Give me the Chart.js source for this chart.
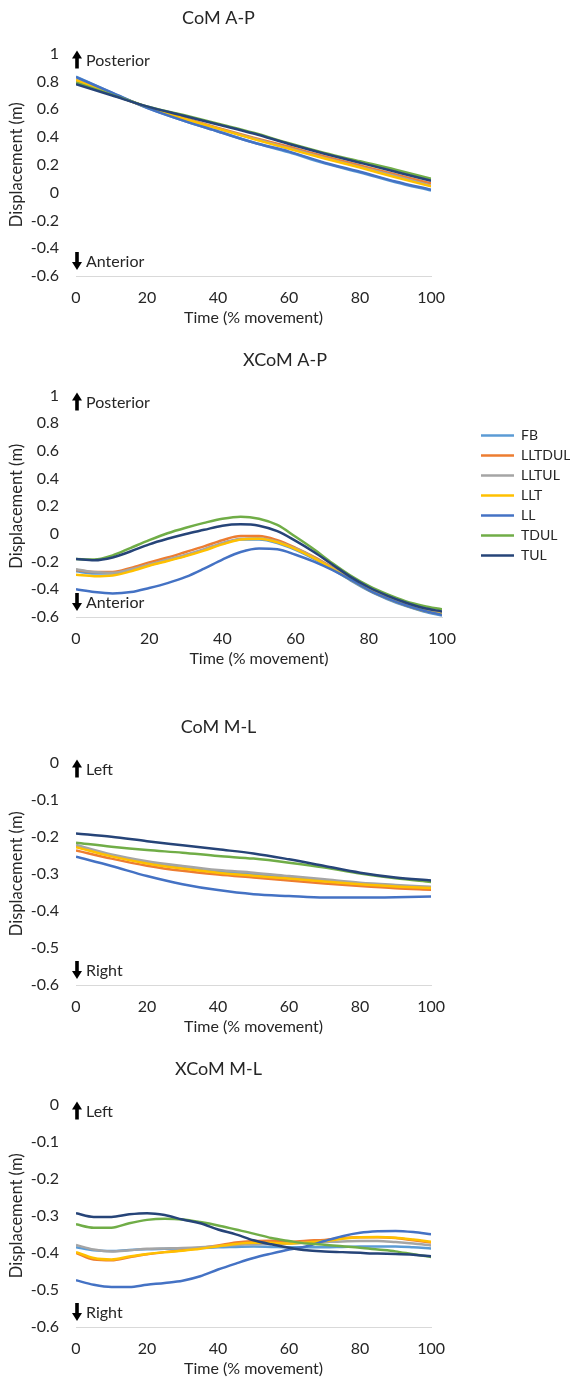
<!DOCTYPE html>
<html>
<head>
<meta charset="utf-8">
<script src="https://cdn.jsdelivr.net/npm/chart.js@4/dist/chart.umd.min.js"></script>
<style>
  body { margin: 0; background: #fff; }
  canvas { position: absolute; left: 0; }
</style>
</head>
<body>
<canvas id="comAP" width="457" height="330" style="top:0px"></canvas>
<canvas id="xcomAP" width="570" height="350" style="top:322px"></canvas>
<canvas id="comML" width="457" height="330" style="top:709px"></canvas>
<canvas id="xcomML" width="457" height="330" style="top:1051px"></canvas>
<script>
// x values (% of movement)
const timeCoarse = [0, 10, 20, 30, 40, 50, 60, 70, 80, 90, 100];
const timeFine = [0, 5, 10, 15, 20, 25, 30, 35, 40, 45, 50, 55, 60, 65, 70, 75, 80, 85, 90, 95, 100];

const seriesNames = ['FB', 'LLTDUL', 'LLTUL', 'LLT', 'LL', 'TDUL', 'TUL'];
const seriesColors = ['#5B9BD5', '#ED7D31', '#A5A5A5', '#FFC000', '#4472C4', '#70AD47', '#264478'];

const xTicks = [0, 20, 40, 60, 80, 100];
const yTicksAP = [-0.6, -0.4, -0.2, 0, 0.2, 0.4, 0.6, 0.8, 1];
const yTicksML = [-0.6, -0.5, -0.4, -0.3, -0.2, -0.1, 0];

// CoM A-P, one row per series (same order as seriesNames), x = timeCoarse
const comApValues = [
  [0.835, 0.72, 0.61, 0.52, 0.44, 0.36, 0.29, 0.21, 0.145, 0.075, 0.015],
  [0.80, 0.71, 0.615, 0.54, 0.465, 0.395, 0.33, 0.26, 0.195, 0.13, 0.065],
  [0.81, 0.71, 0.615, 0.535, 0.46, 0.39, 0.32, 0.25, 0.185, 0.12, 0.05],
  [0.81, 0.71, 0.615, 0.535, 0.46, 0.385, 0.315, 0.245, 0.18, 0.11, 0.045],
  [0.83, 0.72, 0.61, 0.52, 0.44, 0.36, 0.295, 0.215, 0.15, 0.08, 0.02],
  [0.79, 0.705, 0.62, 0.56, 0.495, 0.43, 0.355, 0.285, 0.225, 0.165, 0.10],
  [0.78, 0.70, 0.62, 0.555, 0.49, 0.425, 0.35, 0.28, 0.215, 0.15, 0.085]
];

// XCoM A-P, x = timeFine
const xcomApValues = [
  [-0.27, -0.285, -0.285, -0.26, -0.225, -0.19, -0.155, -0.115, -0.07, -0.04, -0.04, -0.065, -0.115, -0.18, -0.255, -0.335, -0.41, -0.47, -0.52, -0.56, -0.59],
  [-0.26, -0.275, -0.275, -0.245, -0.205, -0.17, -0.13, -0.09, -0.045, -0.015, -0.015, -0.045, -0.1, -0.165, -0.24, -0.32, -0.395, -0.455, -0.505, -0.545, -0.57],
  [-0.255, -0.275, -0.28, -0.255, -0.22, -0.185, -0.15, -0.11, -0.065, -0.035, -0.03, -0.055, -0.105, -0.17, -0.245, -0.325, -0.4, -0.46, -0.51, -0.55, -0.575],
  [-0.295, -0.305, -0.30, -0.27, -0.23, -0.195, -0.16, -0.12, -0.075, -0.04, -0.035, -0.06, -0.11, -0.175, -0.25, -0.33, -0.405, -0.465, -0.515, -0.555, -0.58],
  [-0.40, -0.42, -0.43, -0.42, -0.39, -0.355, -0.31, -0.25, -0.185, -0.13, -0.105, -0.11, -0.15, -0.2, -0.26, -0.33, -0.405, -0.465, -0.515, -0.555, -0.585],
  [-0.18, -0.185, -0.155, -0.10, -0.045, 0.005, 0.045, 0.08, 0.11, 0.125, 0.11, 0.065, -0.02, -0.11, -0.21, -0.30, -0.375, -0.435, -0.485, -0.52, -0.545],
  [-0.18, -0.19, -0.17, -0.125, -0.075, -0.035, 0.0, 0.03, 0.06, 0.07, 0.06, 0.02, -0.05, -0.13, -0.22, -0.31, -0.385, -0.445, -0.495, -0.535, -0.56]
];

// CoM M-L, x = timeCoarse
const comMlValues = [
  [-0.225, -0.25, -0.27, -0.284, -0.294, -0.302, -0.31, -0.318, -0.326, -0.333, -0.338],
  [-0.237, -0.259, -0.278, -0.292, -0.302, -0.31, -0.318, -0.326, -0.333, -0.339, -0.343],
  [-0.222, -0.248, -0.266, -0.279, -0.29, -0.297, -0.306, -0.315, -0.324, -0.33, -0.335],
  [-0.228, -0.253, -0.272, -0.286, -0.297, -0.305, -0.313, -0.321, -0.328, -0.334, -0.338],
  [-0.254, -0.279, -0.306, -0.328, -0.344, -0.355, -0.36, -0.364, -0.364, -0.363, -0.361],
  [-0.216, -0.227, -0.236, -0.243, -0.252, -0.259, -0.27, -0.283, -0.299, -0.312, -0.322],
  [-0.191, -0.2, -0.212, -0.223, -0.234, -0.245, -0.261, -0.279, -0.297, -0.31, -0.318]
];

// XCoM M-L, x = timeFine
const xcomMlValues = [
  [-0.385, -0.393, -0.395, -0.392, -0.39, -0.389, -0.388, -0.387, -0.385, -0.384, -0.383, -0.384, -0.385, -0.385, -0.385, -0.384, -0.383, -0.383, -0.383, -0.385, -0.388],
  [-0.40, -0.418, -0.42, -0.412, -0.404, -0.398, -0.393, -0.387, -0.38, -0.372, -0.368, -0.367, -0.37, -0.367, -0.365, -0.36, -0.358, -0.358, -0.36, -0.366, -0.372],
  [-0.379, -0.391, -0.396, -0.393, -0.389, -0.388, -0.387, -0.385, -0.382, -0.379, -0.377, -0.376, -0.375, -0.373, -0.371, -0.369, -0.368, -0.368, -0.371, -0.375, -0.38],
  [-0.398, -0.414, -0.418, -0.41, -0.403, -0.398, -0.394, -0.389, -0.382, -0.376, -0.373, -0.373, -0.375, -0.372, -0.368, -0.362, -0.358, -0.357, -0.359, -0.364, -0.37],
  [-0.474, -0.486, -0.492, -0.492, -0.486, -0.481, -0.475, -0.463, -0.445, -0.429, -0.414, -0.402, -0.391, -0.382, -0.368, -0.355, -0.346, -0.342, -0.341, -0.344, -0.35],
  [-0.323, -0.332, -0.332, -0.32, -0.311, -0.308, -0.31, -0.317, -0.326, -0.337, -0.348, -0.36, -0.368, -0.375, -0.378, -0.382, -0.386, -0.391, -0.396, -0.404, -0.411],
  [-0.293, -0.303, -0.303, -0.296, -0.293, -0.298, -0.31, -0.32, -0.337, -0.35, -0.366, -0.377, -0.386, -0.393, -0.396, -0.398, -0.4, -0.402, -0.403, -0.405, -0.409]
];

const textColor = '#262626';
Chart.defaults.font.family = 'Lato, sans-serif';
Chart.defaults.color = textColor;

// black arrow + word at top and bottom of the plot area
function drawArrow(ctx, x, yTip, dir) {
  const head = 8, len = 18;
  ctx.beginPath();
  ctx.moveTo(x, yTip);
  ctx.lineTo(x + 5, yTip + dir * head);
  ctx.lineTo(x + 1.8, yTip + dir * head);
  ctx.lineTo(x + 1.8, yTip + dir * len);
  ctx.lineTo(x - 1.8, yTip + dir * len);
  ctx.lineTo(x - 1.8, yTip + dir * head);
  ctx.lineTo(x - 5, yTip + dir * head);
  ctx.closePath();
  ctx.fill();
}

const directionLabels = {
  id: 'directionLabels',
  afterDatasetsDraw(chart, args, opts) {
    const {ctx, chartArea} = chart;
    const x = chartArea.left + 1;
    ctx.save();
    ctx.fillStyle = '#000';
    drawArrow(ctx, x, chartArea.top - 3, 1);
    drawArrow(ctx, x, chartArea.bottom - 6, -1);
    ctx.fillStyle = textColor;
    ctx.font = '16px Lato';
    ctx.textBaseline = 'middle';
    ctx.textAlign = 'left';
    ctx.fillText(opts.up, chartArea.left + 10, chartArea.top + 7);
    ctx.fillText(opts.down, chartArea.left + 10, chartArea.bottom - 14);
    ctx.restore();
  }
};

function makeChart(id, title, xs, values, yTicks, up, down, cfg) {
  const datasets = seriesNames.map((name, i) => ({
    label: name,
    data: xs.map((x, j) => ({x: x, y: values[i][j]})),
    borderColor: seriesColors[i],
    backgroundColor: seriesColors[i],
    borderWidth: 2.5,
    pointRadius: 0,
    cubicInterpolationMode: 'monotone',
    order: seriesNames.length - i   // last series on top, like Excel
  }));

  const scales = {
    x: {
      type: 'linear', min: 0, max: 100,
      afterBuildTicks: s => { s.ticks = xTicks.map(v => ({value: v})); },
      afterFit: s => { s.height = 52; },
      grid: {display: false, drawTicks: false},
      border: {display: true, color: '#d9d9d9', width: 1},
      ticks: {padding: 12, font: {size: 16}, callback: v => String(v)},
      title: {display: true, text: 'Time (% movement)', font: {size: 16}, padding: {top: 1, bottom: 1}}
    },
    y: {
      type: 'linear', min: yTicks[0], max: yTicks[yTicks.length - 1],
      afterBuildTicks: s => { s.ticks = yTicks.map(v => ({value: v})); },
      afterFit: s => { s.width = 76; },
      grid: {display: false, drawTicks: false},
      border: {display: false},
      ticks: {padding: 17, font: {size: 16}, callback: v => String(v)},
      title: {display: true, text: 'Displacement (m)', font: {size: 16.5}, padding: {top: 7, bottom: 0}}
    }
  };
  if (cfg.legend) {
    // empty axis that keeps the legend away from the plot
    scales.gap = {
      type: 'linear', position: 'right', display: true,
      grid: {display: false, drawTicks: false},
      border: {display: false},
      ticks: {display: false},
      afterFit: s => { s.width = cfg.gap; }
    };
  }

  return new Chart(document.getElementById(id), {
    type: 'line',
    data: {datasets: datasets},
    options: {
      responsive: false,
      animation: false,
      devicePixelRatio: 1,
      layout: {padding: {left: 0, right: cfg.legend ? 0 : 20, top: 0, bottom: cfg.padBottom}},
      scales: scales,
      plugins: {
        title: {
          display: true, text: title, color: textColor,
          font: {size: 18, weight: 'normal'},
          padding: {top: cfg.titleTop, bottom: 25}
        },
        legend: {
          display: !!cfg.legend,
          position: 'right',
          reverse: true,
          labels: {
            usePointStyle: true, pointStyle: 'line', pointStyleWidth: 33,
            padding: 6, font: {size: 14}, color: textColor
          }
        },
        tooltip: {enabled: false},
        directionLabels: {up: up, down: down}
      }
    },
    plugins: [directionLabels]
  });
}

makeChart('comAP', 'CoM A-P', timeCoarse, comApValues, yTicksAP, 'Posterior', 'Anterior',
  {titleTop: 7, padBottom: 2});
makeChart('xcomAP', 'XCoM A-P', timeFine, xcomApValues, yTicksAP, 'Posterior', 'Anterior',
  {titleTop: 27, padBottom: 3, legend: true, gap: 33});
makeChart('comML', 'CoM M-L', timeCoarse, comMlValues, yTicksML, 'Left', 'Right',
  {titleTop: 7, padBottom: 2});
makeChart('xcomML', 'XCoM M-L', timeFine, xcomMlValues, yTicksML, 'Left', 'Right',
  {titleTop: 7, padBottom: 2});
</script>
</body>
</html>
